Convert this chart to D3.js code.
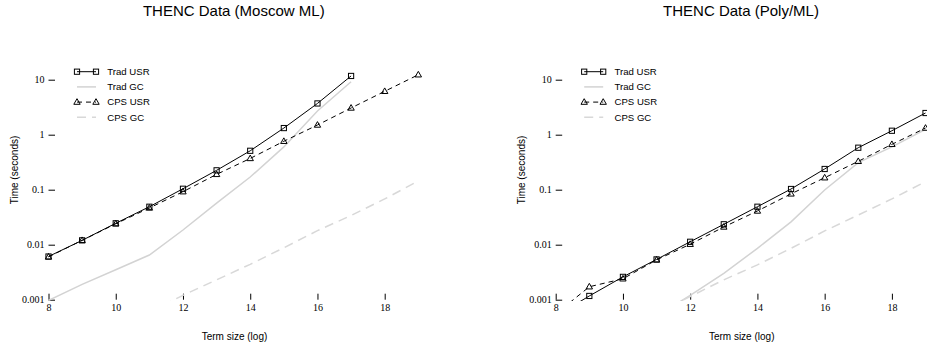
<!DOCTYPE html>
<html>
<head>
<meta charset="utf-8">
<script src="https://cdn.jsdelivr.net/npm/d3@7"></script>
<style>
  body { margin: 0; background: #fff; }
  svg { display: block; }
  .tick text { font-family: "Liberation Serif", serif; font-size: 10px; fill: #000; }
  .tick line { stroke: #000; }
  .label { font-family: "Liberation Sans", Arial, sans-serif; fill: #000; }
</style>
</head>
<body>
<svg id="chart" width="927" height="347"></svg>
<script>
// term sizes (x) and axis ticks
const termSizes = [8, 9, 10, 11, 12, 13, 14, 15, 16, 17, 18, 19];
const xTicks = [8, 10, 12, 14, 16, 18];
const yTicks = [0.001, 0.01, 0.1, 1, 10];
const seriesNames = ["Trad USR", "Trad GC", "CPS USR", "CPS GC"];
const panelTitles = ["THENC Data (Moscow ML)", "THENC Data (Poly/ML)"];

// Moscow ML timings (seconds), aligned with termSizes
const moscowTradUsr = [0.0061, 0.012, 0.0245, 0.049, 0.104, 0.225, 0.51, 1.32, 3.7, 11.7, null, null];
const moscowTradGc = [0.00097, 0.0019, 0.0035, 0.0065, 0.0185, 0.057, 0.17, 0.6, 2.7, 9.2, null, null];
const moscowCpsUsr = [0.006, 0.012, 0.024, 0.0465, 0.092, 0.19, 0.37, 0.76, 1.5, 3.06, 6.15, 12.3];
const moscowCpsGc = [null, null, null, 0.0006, 0.0012, 0.0023, 0.0044, 0.0088, 0.018, 0.034, 0.068, 0.144];

// Poly/ML timings (seconds)
const polyTradUsr = [0.0005, 0.00117, 0.0026, 0.0054, 0.0113, 0.0235, 0.049, 0.103, 0.238, 0.58, 1.18, 2.48];
const polyTradGc = [null, null, null, 0.0005, 0.0012, 0.003, 0.0086, 0.026, 0.099, 0.31, 0.6, 1.25];
const polyCpsUsr = [0.00055, 0.00172, 0.0024, 0.0053, 0.0102, 0.021, 0.041, 0.084, 0.165, 0.328, 0.668, 1.32];
const polyCpsGc = [null, null, null, 0.00057, 0.00114, 0.0023, 0.0043, 0.0086, 0.0178, 0.0347, 0.068, 0.14];

const panels = [
  { title: panelTitles[0], offset: 0, series: [moscowTradUsr, moscowTradGc, moscowCpsUsr, moscowCpsGc] },
  { title: panelTitles[1], offset: 507.2, series: [polyTradUsr, polyTradGc, polyCpsUsr, polyCpsGc] }
];

// line style per series: Trad USR, Trad GC, CPS USR, CPS GC
const styles = [
  { stroke: "#000", width: 1, dash: null, marker: "square" },
  { stroke: "#d3d3d3", width: 1.5, dash: null, marker: null },
  { stroke: "#000", width: 1, dash: "5,4", marker: "triangle" },
  { stroke: "#d8d8d8", width: 1.5, dash: "9,6", marker: null }
];

const svg = d3.select("#chart");

const x = d3.scaleLinear().domain([8, 18]).range([48.5, 384.7]);
const y = d3.scaleLog().domain([0.001, 10]).range([299.7, 79.7]);

function drawMarker(sel, type) {
  if (type === "square") {
    sel.append("rect")
      .attr("x", -2.6).attr("y", -2.6)
      .attr("width", 5.2).attr("height", 5.2)
      .attr("fill", "none").attr("stroke", "#000").attr("stroke-width", 1);
  } else if (type === "triangle") {
    sel.append("path")
      .attr("d", "M0,-3.4L3.2,2.2L-3.2,2.2Z")
      .attr("fill", "none").attr("stroke", "#000").attr("stroke-width", 1);
  }
}

panels.forEach((p, pi) => {
  let g = svg.append("g").attr("transform", `translate(${p.offset},0)`);

  // clip to the plot region
  let clipId = "clip" + pi;
  g.append("clipPath").attr("id", clipId)
    .append("rect")
    .attr("x", x(7.56)).attr("y", 0)
    .attr("width", x(19.44) - x(7.56))
    .attr("height", y(0.001) + 1.2);

  // axes: inward ticks, no domain line
  g.append("g")
    .attr("transform", `translate(0,${y(0.001)})`)
    .call(d3.axisBottom(x).tickValues(xTicks).tickSize(-6).tickPadding(4).tickFormat(d3.format("d")))
    .call(a => a.select(".domain").remove());

  g.append("g")
    .attr("transform", `translate(${x(8)},0)`)
    .call(d3.axisLeft(y).tickValues(yTicks).tickSize(-6.5).tickPadding(4).tickFormat(d => String(d)))
    .call(a => a.select(".domain").remove());

  let plot = g.append("g").attr("clip-path", `url(#${clipId})`);

  // draw gray GC lines first, then USR lines on top
  [1, 3, 0, 2].forEach(si => {
    let st = styles[si];
    let pts = termSizes.map((t, i) => [t, p.series[si][i]]).filter(d => d[1] != null);
    let line = d3.line().x(d => x(d[0])).y(d => y(d[1]));
    plot.append("path")
      .attr("d", line(pts))
      .attr("fill", "none")
      .attr("stroke", st.stroke)
      .attr("stroke-width", st.width)
      .attr("stroke-dasharray", st.dash);
    if (st.marker) {
      plot.selectAll(null).data(pts).join("g")
        .attr("transform", d => `translate(${x(d[0])},${y(d[1])})`)
        .each(function () { drawMarker(d3.select(this), st.marker); });
    }
  });

  // legend
  let legend = g.append("g");
  seriesNames.forEach((name, i) => {
    let st = styles[i];
    let ly = 71.7 + 15.2 * i;
    legend.append("line")
      .attr("x1", 77).attr("x2", 96).attr("y1", ly).attr("y2", ly)
      .attr("stroke", st.stroke).attr("stroke-width", st.width)
      .attr("stroke-dasharray", st.dash);
    if (st.marker) {
      [77, 96].forEach(mx => {
        let m = legend.append("g").attr("transform", `translate(${mx},${ly})`);
        drawMarker(m, st.marker);
      });
    }
    legend.append("text").attr("class", "label")
      .attr("x", 107.3).attr("y", ly).attr("dy", "0.35em")
      .style("font-size", "9.6px")
      .text(name);
  });

  // titles
  g.append("text").attr("class", "label")
    .attr("x", 233.8).attr("y", 16)
    .attr("text-anchor", "middle")
    .style("font-size", "15px")
    .text(p.title);

  g.append("text").attr("class", "label")
    .attr("x", 234.5).attr("y", 340)
    .attr("text-anchor", "middle")
    .style("font-size", "10px")
    .text("Term size (log)");

  g.append("text").attr("class", "label")
    .attr("transform", "translate(18,170) rotate(-90)")
    .attr("text-anchor", "middle")
    .style("font-size", "10px")
    .text("Time (seconds)");
});
</script>
</body>
</html>
